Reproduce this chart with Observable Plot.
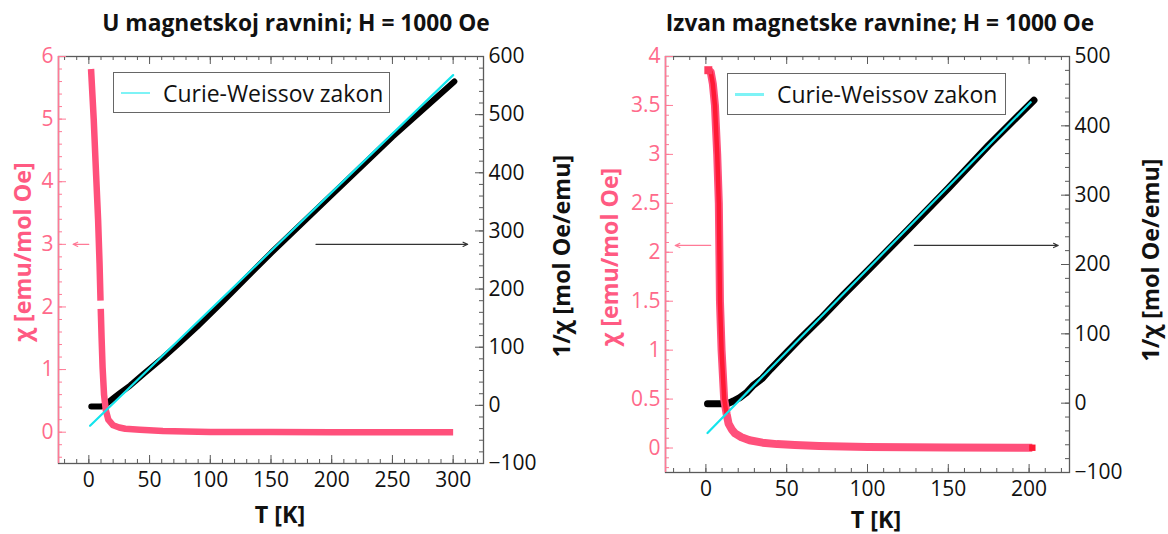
<!DOCTYPE html>
<html><head><meta charset="utf-8">
<script src="https://cdn.jsdelivr.net/npm/d3@7"></script>
<script src="https://cdn.jsdelivr.net/npm/@observablehq/plot@0.6"></script>
<style>
html,body{margin:0;padding:0;background:#fff;}
#wrap{position:relative;width:1168px;height:534px;overflow:hidden;background:#fff;}
.panel{position:absolute;top:0;}
.txt{position:absolute;white-space:nowrap;line-height:1;}
.title{font-family:"Open Sans",sans-serif;font-weight:700;color:#111;transform:translate(-50%,-50%);}
.lab{font-family:"Open Sans",sans-serif;font-weight:700;}
.rot{transform:translate(-50%,-50%) rotate(-90deg);}
.hor{transform:translate(-50%,-50%);}
.legend{position:absolute;border:1.3px solid #666;background:#fff;box-sizing:border-box;}
.legend .sw{position:absolute;height:2.5px;background:#7ef3f6;}
.legend .lt{position:absolute;font-family:"Open Sans",sans-serif;color:#111;white-space:nowrap;line-height:1;transform:translateY(-50%);}
</style>
</head><body>
<div id="wrap"></div>
<script>
// ---------- data: left panel (in-plane) ----------
const leftTitle = "U magnetskoj ravnini; H = 1000 Oe";
const leftChiT = [1.8, 4.0, 6.0, 7.6, 8.8, 9.6, 9.7, 9.8, 10.5, 11.3, 12.5, 14, 16, 20, 25, 30, 42, 61, 80, 100, 150, 200, 250, 300];
const leftChi  = [5.8, 5.0, 4.1, 3.4, 2.7, 2.1, null, 1.97, 1.5, 1.04, 0.6, 0.35, 0.2, 0.11, 0.075, 0.055, 0.04, 0.02, 0.01, 0.005, 0.002, 0.001, 0.0005, 0.0];
const leftInvT = [2, 6, 10, 12, 14, 17, 20, 25, 34, 45, 61, 75, 89, 110, 150, 200, 250, 301];
const leftInv  = [-2, -2, -2, -1, 2, 7, 12, 20, 34, 54, 82, 108, 135, 178, 262, 362, 462, 557];
const leftFitT = [1, 300];
const leftFit  = [-35, 568];
const leftXTicks = [0, 50, 100, 150, 200, 250, 300];
const leftYTicks = [0, 1, 2, 3, 4, 5, 6];
const leftRTicks = [-100, 0, 100, 200, 300, 400, 500, 600];
const leftArrowPink = {x1: 0, x2: -13, y: 3};
const leftArrowBlack = {x1: 187, x2: 312, y: 3};

// ---------- data: right panel (out-of-plane) ----------
const rightTitle = "Izvan magnetske ravnine; H = 1000 Oe";
const rightChiT = [1.5, 3.0, 4.3, 5.6, 7.0, 8.0, 8.7, 9.7, 11.3, 12.8, 14, 16, 18, 22, 27, 35, 44, 55, 70, 100, 150, 202];
const rightChi  = [3.86, 3.84, 3.72, 3.5, 3.0, 2.5, 1.5, 1.0, 0.5, 0.35, 0.25, 0.19, 0.15, 0.11, 0.08, 0.055, 0.04, 0.03, 0.02, 0.01, 0.005, 0.003];
const rightInvT = [1, 5, 10, 14, 17, 21, 25, 29, 35, 40, 50, 60, 71, 85, 100, 125, 150, 175, 203];
const rightInv  = [-1, -1, -1, 0, 3, 8, 15, 25, 36, 49, 73, 97, 122, 156, 191, 250, 310, 372, 437];
const rightFitT = [1, 201];
const rightFit  = [-43, 434];
const rightXTicks = [0, 50, 100, 150, 200];
const rightYTicks = [0, 0.5, 1, 1.5, 2, 2.5, 3, 3.5, 4];
const rightRTicks = [-100, 0, 100, 200, 300, 400, 500];
const rightArrowPink = {x1: 3, x2: -19, y: 2.07};
const rightArrowBlack = {x1: 129, x2: 218, y: 2.07};

const legendText = "Curie-Weissov zakon";
const xLabel = "T [K]";
const yLabel = "χ [emu/mol Oe]";
const rLabel = "1/χ [mol Oe/emu]";

// ---------- style ----------
const pink = "#ff507b", pinkText = "#ff6a8b", pinkTick = "#ff7a96", red = "#ff1a35";
const cyan = "#14e4ec", frameCol = "#5a5a5a";
const fmt = v => (v < 0 ? "\u2212" + Math.abs(v) : String(v));

function panel(c) {
  const [y0, y1] = c.yDomain, [r0, r1] = c.rDomain;
  const W = 584 - c.m[0] - c.m[1], H = 534 - c.m[2] - c.m[3];
  const toY = v => y0 + (v - r0) * (y1 - y0) / (r1 - r0);
  const fromY = y => r0 + (y - y0) * (r1 - r0) / (y1 - y0);
  const chi = c.chiT.map((t, i) => ({T: t, v: c.chi[i] == null ? NaN : c.chi[i]}));
  const inv = c.invT.map((t, i) => ({T: t, v: toY(c.inv[i])}));
  const fit = c.fitT.map((t, i) => ({T: t, v: toY(c.fit[i])}));
  const xMinor = d3.range(Math.ceil(c.xDomain[0] / 10) * 10, c.xDomain[1] + 0.01, 10);
  const yMinor = d3.range(Math.ceil(y0 / c.yMinorStep - 1e-9) * c.yMinorStep, y1 + 1e-9, c.yMinorStep);
  const rMinor = d3.range(r0, r1 + 0.01, 20).map(toY);
  const rMajor = c.rTicks.map(toY);
  const arrows = [
    {x1: c.arrowPink.x1, x2: c.arrowPink.x2, y: c.arrowPink.y, s: pinkTick},
    {x1: c.arrowBlack.x1, x2: c.arrowBlack.x2, y: c.arrowBlack.y, s: "#333"}
  ];
  const id = d => d;
  const marks = [
    Plot.frame({stroke: frameCol, strokeWidth: 1.3}),
    Plot.ruleX([c.xDomain[0]], {stroke: pinkTick, strokeWidth: 1.5}),
    // x ticks bottom / top (inward)
    Plot.tickX(xMinor, {x: id, stroke: frameCol, insetTop: H - 4}),
    Plot.tickX(c.xTicks, {x: id, stroke: frameCol, insetTop: H - 8}),
    Plot.tickX(xMinor, {x: id, stroke: frameCol, insetBottom: H - 4}),
    Plot.tickX(c.xTicks, {x: id, stroke: frameCol, insetBottom: H - 8}),
    Plot.axisX(c.xTicks, {anchor: "bottom", tickSize: 0, tickPadding: 9, fill: "#111", label: null, tickFormat: fmt, fontSize: 21}),
    // left y (chi)
    Plot.tickY(yMinor, {y: id, stroke: pinkTick, insetRight: W - 4}),
    Plot.tickY(c.yTicks, {y: id, stroke: pinkTick, insetRight: W - 8}),
    Plot.axisY(c.yTicks, {anchor: "left", tickSize: 0, tickPadding: 5, fill: pinkText, label: null, tickFormat: d => String(d), fontSize: 21}),
    // right y (1/chi)
    Plot.tickY(rMinor, {y: id, stroke: frameCol, insetLeft: W - 4}),
    Plot.tickY(rMajor, {y: id, stroke: frameCol, insetLeft: W - 8}),
    Plot.axisY(rMajor, {anchor: "right", tickSize: 0, tickPadding: 5, fill: "#111", label: null, tickFormat: d => fmt(Math.round(fromY(d))), fontSize: 21}),
    // data
    Plot.line(inv, {x: "T", y: "v", stroke: "#000", strokeWidth: c.invWidth, strokeLinecap: "round", strokeLinejoin: "round"}),
    Plot.line(chi, {x: "T", y: "v", stroke: pink, strokeWidth: c.chiWidth, strokeLinecap: "butt", strokeLinejoin: "round"})
  ];
  if (c.redCore) {
    const core = chi.filter(d => d.v >= 0.3);
    marks.push(Plot.line(core, {x: "T", y: "v", stroke: red, strokeWidth: 4.5, strokeLinecap: "butt"}));
    marks.push(Plot.dot(chi.slice(-1), {x: "T", y: "v", symbol: "square", r: 3.6, fill: red, stroke: "none"}));
    marks.push(Plot.dot(chi.slice(0, 1), {x: "T", y: "v", symbol: "square", r: 4.5, fill: "#ff3a5c", stroke: "none"}));
  }
  marks.push(Plot.line(fit, {x: "T", y: "v", stroke: cyan, strokeWidth: 2.2}));
  marks.push(Plot.arrow(arrows, {x1: "x1", x2: "x2", y1: "y", y2: "y", stroke: "s", strokeWidth: 1.1, headLength: 7, headAngle: 50}));
  return Plot.plot({
    width: 584, height: 534,
    marginLeft: c.m[0], marginRight: c.m[1], marginTop: c.m[2], marginBottom: c.m[3],
    x: {domain: c.xDomain, axis: null},
    y: {domain: c.yDomain, axis: null},
    style: {fontFamily: "'Open Sans', sans-serif", fontSize: "21px", background: "transparent", overflow: "visible"},
    marks
  });
}

const wrap = document.getElementById("wrap");
function addText(cls, text, css) {
  const d = document.createElement("div");
  d.className = "txt " + cls;
  d.textContent = text;
  Object.assign(d.style, css);
  wrap.appendChild(d);
  return d;
}
function fitWidth(el, target) {
  const w = el.offsetWidth;
  const fs = parseFloat(el.style.fontSize);
  el.style.fontSize = (fs * target / w).toFixed(2) + "px";
}
function legend(left, top, w, h) {
  const b = document.createElement("div");
  b.className = "legend";
  Object.assign(b.style, {left: left + "px", top: top + "px", width: w + "px", height: h + "px"});
  const sw = document.createElement("div");
  sw.className = "sw";
  Object.assign(sw.style, {left: "7px", width: "29px", top: (h / 2 - 1.8) + "px"});
  const t = document.createElement("div");
  t.className = "lt";
  t.textContent = legendText;
  Object.assign(t.style, {left: "49px", top: (h / 2 - 1) + "px", fontSize: "22px"});
  b.appendChild(sw); b.appendChild(t);
  wrap.appendChild(b);
  fitWidth(t, 220);
}

const cfgs = [
  {left: 0, xDomain: [-25, 325], yDomain: [-0.5, 6], rDomain: [-100, 600], yMinorStep: 0.2,
   xTicks: leftXTicks, yTicks: leftYTicks, rTicks: leftRTicks,
   chiT: leftChiT, chi: leftChi, invT: leftInvT, inv: leftInv, fitT: leftFitT, fit: leftFit,
   arrowPink: leftArrowPink, arrowBlack: leftArrowBlack, m: [58, 101, 56, 71], chiWidth: 6.5, invWidth: 6, redCore: false},
  {left: 584, xDomain: [-25, 225], yDomain: [-0.25, 4], rDomain: [-100, 500], yMinorStep: 0.1,
   xTicks: rightXTicks, yTicks: rightYTicks, rTicks: rightRTicks,
   chiT: rightChiT, chi: rightChi, invT: rightInvT, inv: rightInv, fitT: rightFitT, fit: rightFit,
   arrowPink: rightArrowPink, arrowBlack: rightArrowBlack, m: [81, 99, 56, 62], chiWidth: 8, invWidth: 7, redCore: true}
];
for (const c of cfgs) {
  const div = document.createElement("div");
  div.className = "panel";
  div.style.left = c.left + "px";
  div.appendChild(panel(c));
  wrap.appendChild(div);
}

// titles
fitWidth(addText("title", leftTitle, {left: "296px", top: "23px", fontSize: "21px"}), 388);
fitWidth(addText("title", rightTitle, {left: "880px", top: "23px", fontSize: "21px"}), 429);
// axis labels
fitWidth(addText("lab rot", yLabel, {left: "23px", top: "252px", fontSize: "22px", color: "#ff5a82"}), 180);
fitWidth(addText("lab rot", rLabel, {left: "562px", top: "256px", fontSize: "22px", color: "#111"}), 202);
fitWidth(addText("lab hor", xLabel, {left: "280px", top: "515px", fontSize: "21px", color: "#111"}), 50);
fitWidth(addText("lab rot", yLabel, {left: "610px", top: "257px", fontSize: "22px", color: "#ff5a82"}), 179);
fitWidth(addText("lab rot", rLabel, {left: "1151px", top: "260px", fontSize: "22px", color: "#111"}), 203);
fitWidth(addText("lab hor", xLabel, {left: "876px", top: "520px", fontSize: "21px", color: "#111"}), 50);
// legends
legend(113, 72, 277, 41);
legend(727, 73, 279, 42);
</script>
</body></html>
